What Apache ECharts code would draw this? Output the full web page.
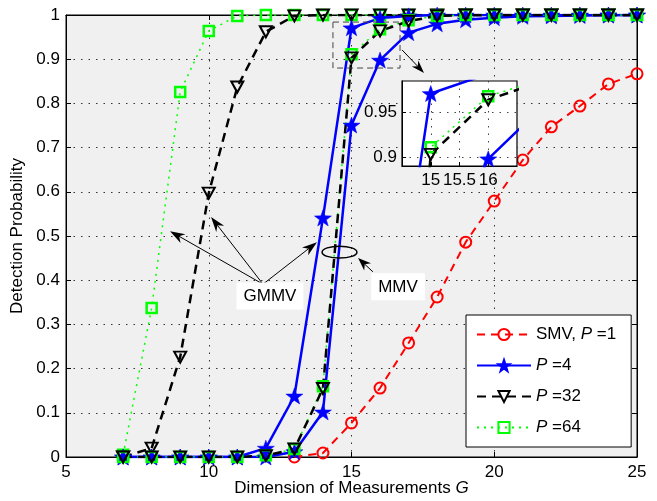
<!DOCTYPE html>
<html><head><meta charset="utf-8">
<script src="https://cdn.jsdelivr.net/npm/echarts@6/dist/echarts.min.js"></script>
<style>html,body{margin:0;padding:0;background:#fff}#c{width:657px;height:501px}</style>
</head><body><div id="c"></div>
<script>
// ---- data ----
const G = [7,8,9,10,11,12,13,14,15,16,17,18,19,20,21,22,23,24,25];
const smvG = [13,14,15,16,17,18,19,20,21,22,23,24,25];
const smv = [0,0.009,0.077,0.156,0.258,0.362,0.486,0.579,0.672,0.747,0.794,0.844,0.867];
const p4GMMV = [0,0,0,0,0,0.02,0.138,0.541,0.971,0.993,0.998,1,1,1,1,1,1,1,1];
const p4MMV = [0,0,0,0,0,0,0.012,0.102,0.751,0.898,0.96,0.98,0.989,0.994,0.997,0.998,0.999,1,1];
const p32GMMV = [0,0.02,0.226,0.597,0.837,0.962,0.998,1,1,1,1,1,1,1,1,1,1,1,1];
const p32MMV = [0,0,0,0,0,0.003,0.018,0.155,0.903,0.964,0.986,0.998,1,1,1,1,1,1,1];
const p64GMMV = [0.005,0.337,0.826,0.964,0.998,1,1,1,1,1,1,1,1,1,1,1,1,1,1];
const p64MMV = [0,0,0,0,0,0.004,0.018,0.16,0.911,0.968,0.988,0.998,1,1,1,1,1,1,1];
const legendNames = ['SMV, P=1','P=4','P=32','P=64'];
const insetXLabels = [15,15.5,16];
const insetYLabels = [0.9,0.95];

// ---- styles ----
const FONT = 'Liberation Sans, Arial, sans-serif';
const STAR = 'path://M0,-10 L2.35,-3.24 L9.51,-3.09 L3.8,1.24 L5.88,8.09 L0,4 L-5.88,8.09 L-3.8,1.24 L-9.51,-3.09 L-2.35,-3.24 Z';
const TRI = 'path://M0,0 L10,0 L5,9 Z';
const ST = {
  'SMV, P=1': {color:'#ff0000', width:2, type:[8,6], symbol:'circle', size:11, fill:'rgba(0,0,0,0)', bw:2},
  'P=4': {color:'#0000ff', width:2.5, type:'solid', symbol:STAR, size:[17,16], fill:'#0000ff', bw:0.5},
  'P=32': {color:'#000000', width:2.5, type:[9,6], symbol:TRI, size:[12,11], fill:'rgba(0,0,0,0)', bw:2},
  'P=64': {color:'#00ff00', width:1.5, type:[2,5], symbol:'rect', size:10, fill:'rgba(0,0,0,0)', bw:2.5}
};
function pairs(xs, ys){ return xs.map((x,i)=>[x, ys[i]]); }
function mk(name, xs, ys, idx, z){
  const s = ST[name];
  return {
    type:'line', name, data:pairs(xs, ys), xAxisIndex:idx, yAxisIndex:idx, z:z,
    symbol:s.symbol, symbolSize:s.size, showAllSymbol:true, clip:true,
    lineStyle:{color:s.color, width:s.width, type:s.type},
    itemStyle:{color:s.fill, borderColor:s.color, borderWidth:s.bw},
    emphasis:{disabled:true}
  };
}
const seriesDefs = [
  ['SMV, P=1', smvG, smv],
  ['P=64', G, p64GMMV],
  ['P=32', G, p32GMMV],
  ['P=4', G, p4GMMV],
  ['P=4', G, p4MMV],
  ['P=64', G, p64MMV],
  ['P=32', G, p32MMV]
];
const series = [];
seriesDefs.forEach(d => series.push(mk(d[0], d[1], d[2], 0, 2)));
seriesDefs.forEach(d => series.push(mk(d[0], d[1], d[2], 1, 12)));

const dotted = {show:true, lineStyle:{color:'#333', width:1, type:[1.5,6]}};
const lbl = {color:'#000', fontSize:17, fontFamily:FONT};
const option = {
  animation:false,
  backgroundColor:'#fff',
  textStyle:{fontFamily:FONT},
  grid:[
    {left:66, top:15, width:571, height:442, show:true, backgroundColor:'#f0f0f0', borderColor:'#000', borderWidth:1, z:0, containLabel:false, outerBoundsMode:'none'},
    {left:402, top:81, width:115, height:85, show:true, backgroundColor:'#fff', borderColor:'#000', borderWidth:1.2, z:10, containLabel:false, outerBoundsMode:'none'}
  ],
  xAxis:[
    {type:'value', gridIndex:0, min:5, max:25, interval:5, position:'bottom',
     axisLine:{show:true, onZero:false, lineStyle:{color:'#000'}},
     axisTick:{show:true, inside:true, length:5, lineStyle:{color:'#000'}},
     axisLabel:Object.assign({margin:7}, lbl),
     splitLine:dotted,
     name:'{n|Dimension of Measurements }{i|G}', nameLocation:'middle', nameGap:23, nameMoveOverlap:false,
     nameTextStyle:{color:'#000', fontSize:17, fontFamily:FONT, rich:{n:{fontSize:17, fontFamily:FONT, color:'#000'}, i:{fontSize:17, fontFamily:FONT, fontStyle:'italic', color:'#000'}}}},
    {type:'value', gridIndex:1, min:14.5, max:16.5, interval:0.5, z:10,
     axisLine:{show:true, onZero:false, lineStyle:{color:'#000'}},
     axisTick:{show:true, inside:true, length:4, customValues:insetXLabels, lineStyle:{color:'#000'}},
     axisLabel:Object.assign({margin:6, customValues:insetXLabels}, lbl),
     splitLine:{show:true, lineStyle:{color:'#444', width:1, type:[1.5,6]}}},
    {type:'value', gridIndex:0, min:5, max:25, interval:5, position:'top',
     axisLine:{show:true, onZero:false, lineStyle:{color:'#000'}},
     axisTick:{show:true, inside:true, length:5, lineStyle:{color:'#000'}},
     axisLabel:{show:false}, splitLine:{show:false}}
  ],
  yAxis:[
    {type:'value', gridIndex:0, min:0, max:1, interval:0.1, position:'left',
     axisLine:{show:true, onZero:false, lineStyle:{color:'#000'}},
     axisTick:{show:true, inside:true, length:5, lineStyle:{color:'#000'}},
     axisLabel:Object.assign({margin:6}, lbl),
     splitLine:dotted,
     name:'Detection Probability', nameLocation:'middle', nameGap:40, nameMoveOverlap:false,
     nameTextStyle:{color:'#000', fontSize:17, fontFamily:FONT}},
    {type:'value', gridIndex:1, min:0.89, max:0.985, z:10,
     axisLine:{show:true, onZero:false, lineStyle:{color:'#000'}},
     axisTick:{show:true, inside:true, length:4, customValues:insetYLabels, lineStyle:{color:'#000'}},
     axisLabel:Object.assign({margin:5, customValues:insetYLabels}, lbl),
     splitLine:{show:true, lineStyle:{color:'#444', width:1, type:[1.5,6]}}},
    {type:'value', gridIndex:0, min:0, max:1, interval:0.1, position:'right',
     axisLine:{show:true, onZero:false, lineStyle:{color:'#000'}},
     axisTick:{show:true, inside:true, length:5, lineStyle:{color:'#000'}},
     axisLabel:{show:false}, splitLine:{show:false}}
  ],
  legend:{
    data:legendNames, orient:'vertical', left:466, top:315, z:20,
    backgroundColor:'#fff', borderColor:'#000', borderWidth:1,
    padding:[11,15,11,10], itemWidth:54, itemHeight:14, itemGap:14,
    selectedMode:false,
    textStyle:{color:'#000', fontSize:17, fontFamily:FONT,
      rich:{n:{fontSize:17, fontFamily:FONT, color:'#000'}, i:{fontSize:17, fontFamily:FONT, fontStyle:'italic', color:'#000'}}},
    formatter:function(name){
      const m = name.match(/^(.*?)P=(\d+)$/);
      return (m[1] ? '{n|' + m[1] + '}' : '') + '{i|P}{n| =' + m[2] + '}';
    }
  },
  series:series
};
const chart = echarts.init(document.getElementById('c'), null, {renderer:'canvas'});
chart.setOption(option);

// ---- annotations (positions in data coordinates of main axes) ----
const ann = {
  gmmvText:[12.145,0.364], gmmvTail:[11.90,0.391],
  gmmvTips:[[8.643,0.511],[10.08,0.543],[13.79,0.486]],
  ellipse:[13.97,0.477,15.19,0.450],
  mmvText:[16.63,0.385], mmvTail:[15.75,0.419], mmvTip:[15.23,0.450],
  zoomBox:[14.35,0.984,16.70,0.880], zoomTail:[16.77,0.921], zoomTip:[17.54,0.869]
};
const px = p => chart.convertToPixel({xAxisIndex:0, yAxisIndex:0}, p);
function arrow(a, b, len, wid, lw){
  const p0 = px(a), p1 = px(b);
  const dx = p1[0]-p0[0], dy = p1[1]-p0[1], L = Math.hypot(dx,dy);
  const ux = dx/L, uy = dy/L, nx = -uy, ny = ux;
  const base = [p1[0]-ux*len, p1[1]-uy*len];
  const notch = [p1[0]-ux*len*0.7, p1[1]-uy*len*0.7];
  return [
    {type:'line', z:30, shape:{x1:p0[0], y1:p0[1], x2:notch[0], y2:notch[1]}, style:{stroke:'#000', lineWidth:lw}},
    {type:'polygon', z:30, shape:{points:[p1, [base[0]+nx*wid/2, base[1]+ny*wid/2], notch, [base[0]-nx*wid/2, base[1]-ny*wid/2]]}, style:{fill:'#000'}}
  ];
}
const g = [];
const e0 = px([ann.ellipse[0], ann.ellipse[1]]), e1 = px([ann.ellipse[2], ann.ellipse[3]]);
g.push({type:'ellipse', z:30, shape:{cx:(e0[0]+e1[0])/2, cy:(e0[1]+e1[1])/2, rx:(e1[0]-e0[0])/2, ry:(e1[1]-e0[1])/2}, style:{fill:'none', stroke:'#000', lineWidth:1.5}});
const b0 = px([ann.zoomBox[0], ann.zoomBox[1]]), b1 = px([ann.zoomBox[2], ann.zoomBox[3]]);
g.push({type:'rect', z:5, shape:{x:b0[0], y:b0[1], width:b1[0]-b0[0], height:b1[1]-b0[1]}, style:{fill:'none', stroke:'#444', lineWidth:1, lineDash:[6,4]}});
ann.gmmvTips.forEach(t => arrow(ann.gmmvTail, t, 15, 10, 1).forEach(e => g.push(e)));
arrow(ann.mmvTail, ann.mmvTip, 13, 10, 1).forEach(e => g.push(e));
arrow(ann.zoomTail, ann.zoomTip, 13, 9, 1).forEach(e => g.push(e));
const tg = px(ann.gmmvText), tm = px(ann.mmvText);
g.push({type:'text', z:31, x:tg[0], y:tg[1], style:{text:'GMMV', fill:'#000', font:'17px ' + FONT, align:'center', verticalAlign:'middle', backgroundColor:'#fff', padding:[5,7,5,7]}});
g.push({type:'text', z:31, x:tm[0], y:tm[1], style:{text:'MMV', fill:'#000', font:'17px ' + FONT, align:'center', verticalAlign:'middle', backgroundColor:'#fff', padding:[5,7,5,7]}});
chart.setOption({graphic:g});
</script>
</body></html>
